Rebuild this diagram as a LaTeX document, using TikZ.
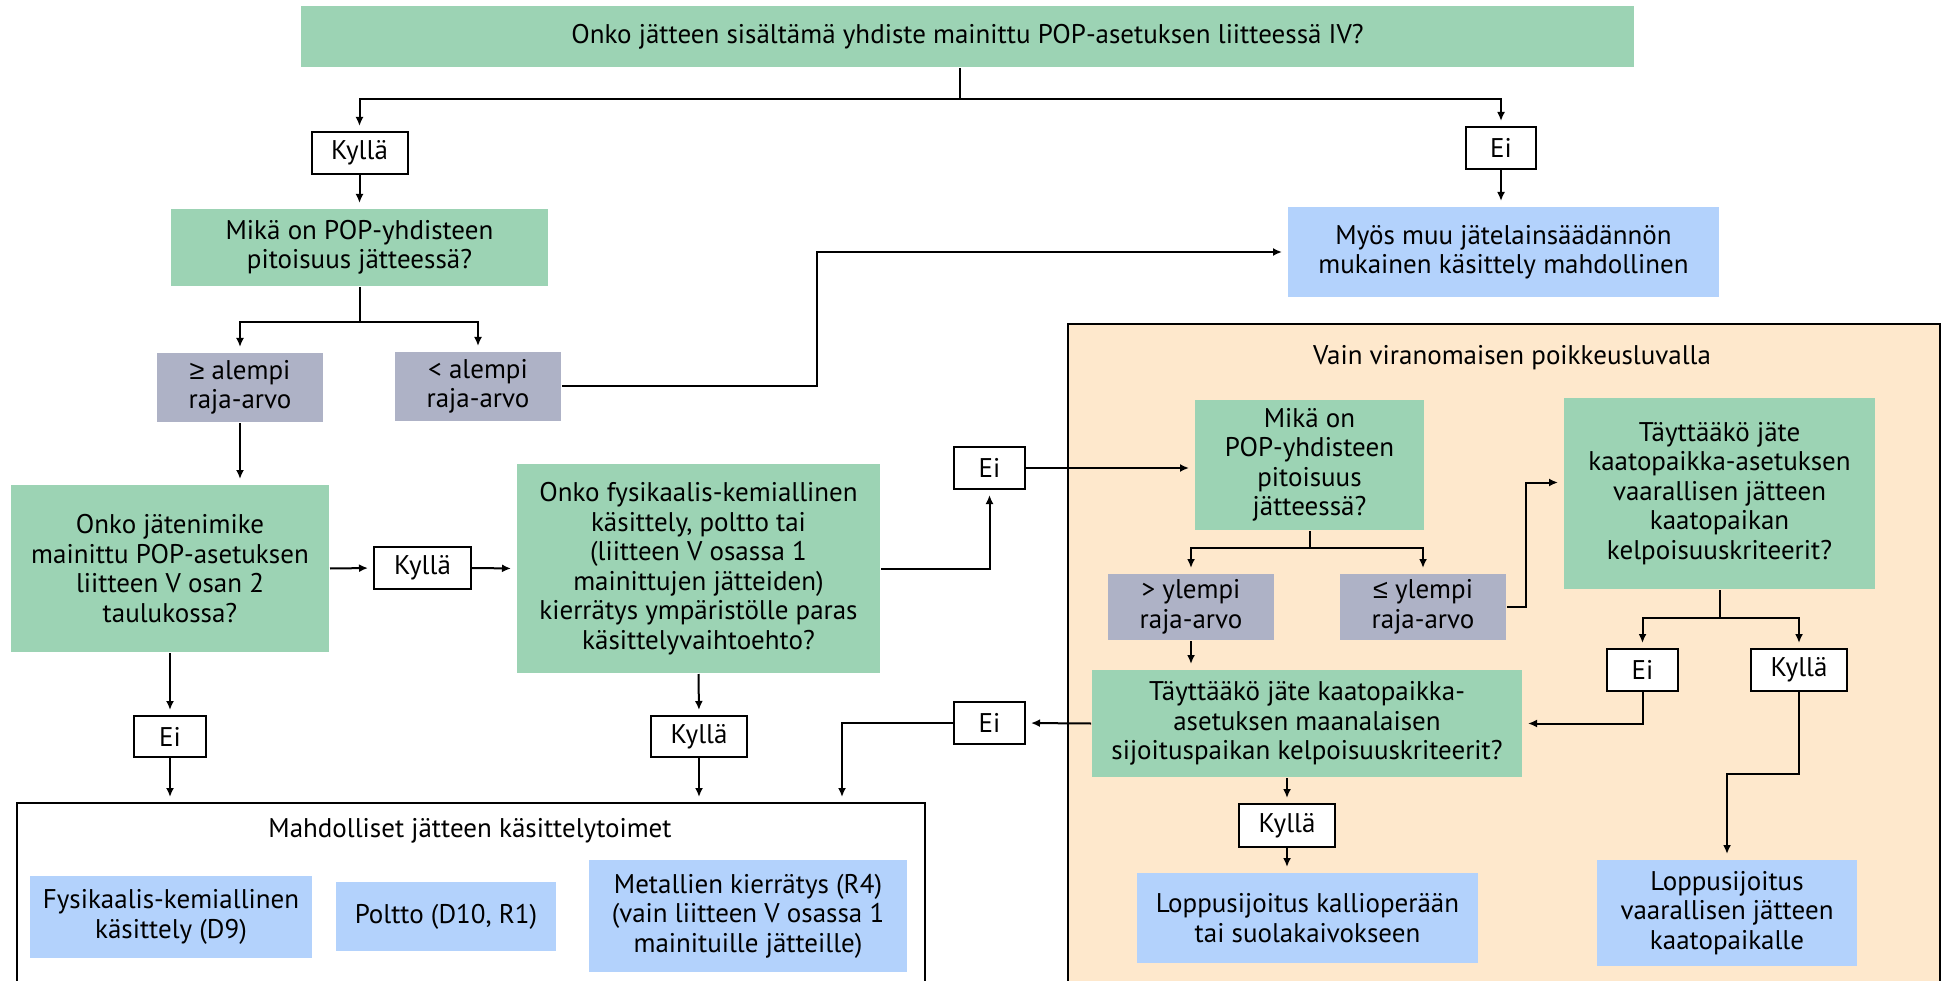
\documentclass[tikz,border=0pt]{standalone}
\usepackage{fontspec}
\setmainfont{PT Sans}
\newfontfamily\symfont{Liberation Sans}
\usetikzlibrary{arrows.meta}
\definecolor{qgreen}{RGB}{156,211,180}
\definecolor{limgray}{RGB}{174,178,198}
\definecolor{resblue}{RGB}{179,210,252}
\definecolor{exorange}{RGB}{254,232,204}
\begin{document}
\begin{tikzpicture}[x=1pt,y=-1pt,line width=2pt,>={Latex[length=9pt,width=8pt]},
          every node/.style={font=\fontsize{27}{29.5}\selectfont,align=center,inner sep=0pt},
          question/.style={fill=qgreen},
          limit/.style={fill=limgray},
          result/.style={fill=resblue},
          answer/.style={draw,fill=white},
          frame/.style={draw,anchor=north west},
          arrowline/.style={->,shorten >=5pt}]
          \useasboundingbox (0,0) rectangle (1946,981);
          \clip (0,0) rectangle (1946,981);
          \node[frame,minimum width=908,minimum height=210] (mahd) at (16,802) {};
          \node[frame,fill=exorange,minimum width=872,minimum height=690] (vain) at (1067,323) {};
          \node (mahdt) at (470,831) {Mahdolliset jätteen käsittelytoimet};
          \node (vaint) at (1512,358) {Vain viranomaisen poikkeusluvalla};
          \node[question,minimum width=1333,minimum height=61] (top) at (967.5,36.5) {Onko jätteen sisältämä yhdiste mainittu POP-asetuksen liitteessä IV?};
          \node[answer,minimum width=96,minimum height=42] (kyl1) at (359.5,153) {Kyllä};
          \node[answer,minimum width=70,minimum height=42] (ei1) at (1501,148) {Ei};
          \node[question,minimum width=377,minimum height=77] (mika1) at (359.5,247.5) {Mikä on POP-yhdisteen\\pitoisuus jätteessä?};
          \node[result,minimum width=431,minimum height=90] (myos) at (1503.5,252) {Myös muu jätelainsäädännön\\mukainen käsittely mahdollinen};
          \node[limit,minimum width=166,minimum height=69] (ge) at (240,387.5) {{\symfont ≥} alempi\\raja-arvo};
          \node[limit,minimum width=166,minimum height=69] (lt) at (478,386.5) {< alempi\\raja-arvo};
          \node[question,minimum width=318,minimum height=167] (nimike) at (170,568.5) {Onko jätenimike\\mainittu POP-asetuksen\\liitteen V osan 2\\taulukossa?};
          \node[answer,minimum width=97,minimum height=42] (kyl2) at (422.5,568) {Kyllä};
          \node[question,minimum width=363,minimum height=209] (fys) at (698.5,568.5) {Onko fysikaalis-kemiallinen\\käsittely, poltto tai\\(liitteen V osassa 1\\mainittujen jätteiden)\\kierrätys ympäristölle paras\\käsittelyvaihtoehto?};
          \node[answer,minimum width=71,minimum height=42] (ei2) at (989.5,468) {Ei};
          \node[answer,minimum width=72,minimum height=41] (ei3) at (170,736.5) {Ei};
          \node[answer,minimum width=96,minimum height=41] (kyl3) at (699,736.5) {Kyllä};
          \node[answer,minimum width=71,minimum height=42] (ei4) at (989.5,723) {Ei};
          \node[result,minimum width=282,minimum height=82] (fysk) at (171,917) {Fysikaalis-kemiallinen\\käsittely (D9)};
          \node[result,minimum width=220,minimum height=69] (polt) at (446,916.5) {Poltto (D10, R1)};
          \node[result,minimum width=318,minimum height=112] (met) at (748,916) {Metallien kierrätys (R4)\\(vain liitteen V osassa 1\\mainituille jätteille)};
          \node[question,minimum width=229,minimum height=130] (mika2) at (1309.5,465) {Mikä on\\POP-yhdisteen\\pitoisuus\\jätteessä?};
          \node[question,minimum width=311,minimum height=191] (tva) at (1719.5,493.5) {Täyttääkö jäte\\kaatopaikka-asetuksen\\vaarallisen jätteen\\kaatopaikan\\kelpoisuuskriteerit?};
          \node[limit,minimum width=166,minimum height=66] (gt) at (1191,607) {> ylempi\\raja-arvo};
          \node[limit,minimum width=166,minimum height=66] (le) at (1423,607) {{\symfont ≤} ylempi\\raja-arvo};
          \node[answer,minimum width=71,minimum height=42] (ei5) at (1642.5,670) {Ei};
          \node[answer,minimum width=96,minimum height=42] (kyl4) at (1799,670) {Kyllä};
          \node[question,minimum width=430,minimum height=107] (tma) at (1307,723.5) {Täyttääkö jäte kaatopaikka-\\asetuksen maanalaisen\\sijoituspaikan kelpoisuuskriteerit?};
          \node[answer,minimum width=96,minimum height=43] (kyl5) at (1287,825.5) {Kyllä};
          \node[result,minimum width=341,minimum height=90] (lkal) at (1307.5,918) {Loppusijoitus kallioperään\\tai suolakaivokseen};
          \node[result,minimum width=260,minimum height=106] (lvaa) at (1727,913) {Loppusijoitus\\vaarallisen jätteen\\kaatopaikalle};
          \coordinate (b1) at (960,99);
          \coordinate (b2) at (359.5,322);
          \coordinate (b3) at (1309.5,548);
          \coordinate (b4) at (1719.5,618);
          \draw (top.south -| b1) -- (b1);
          \draw [arrowline] (b1) -| (kyl1.north);
          \draw [arrowline] (b1) -| (ei1.north);
          \draw [arrowline] (kyl1.south) -- (mika1.north);
          \draw [arrowline] (ei1.south) -- (ei1.south |- myos.north);
          \draw (mika1.south) -- (b2);
          \draw [arrowline] (b2) -| (ge.north);
          \draw [arrowline] (b2) -| (lt.north);
          \draw [arrowline] (lt.east) -- ++(255,0) |- (myos.west);
          \draw [arrowline] (ge.south) -- (ge.south |- nimike.north);
          \draw [arrowline] (nimike.east) -- (kyl2.west);
          \draw [arrowline] (kyl2.east) -- (fys.west);
          \draw [arrowline] (fys.east) -| (ei2.south);
          \draw [arrowline] (ei2.east) -- (ei2.east -| mika2.west);
          \draw [arrowline] (nimike.south) -- (ei3.north);
          \draw [arrowline] (ei3.south) -- (ei3.south |- mahd.north);
          \draw [arrowline] (fys.south) -- (kyl3.north);
          \draw [arrowline] (kyl3.south) -- (kyl3.south |- mahd.north);
          \draw [arrowline] (tma.west) -- (ei4.east);
          \draw [arrowline] (ei4.west) -| (842,0 |- mahd.north);
          \draw (mika2.south) -- (b3);
          \draw [arrowline] (b3) -| (gt.north);
          \draw [arrowline] (b3) -| (le.north);
          \draw [arrowline] (le.east) -- ++(19,0) |- ([yshift=11pt]tva.west);
          \draw [arrowline] (gt.south) -- (gt.south |- tma.north);
          \draw (tva.south) -- (b4);
          \draw [arrowline] (b4) -| (ei5.north);
          \draw [arrowline] (b4) -| (kyl4.north);
          \draw [arrowline] (ei5.south) |- (tma.east);
          \draw [arrowline] (kyl4.south) -- ++(0,82) -| (lvaa.north);
          \draw [arrowline] (kyl5.north |- tma.south) -- (kyl5.north);
          \draw [arrowline] (kyl5.south) -- (kyl5.south |- lkal.north);
        \end{tikzpicture}
\end{document}
